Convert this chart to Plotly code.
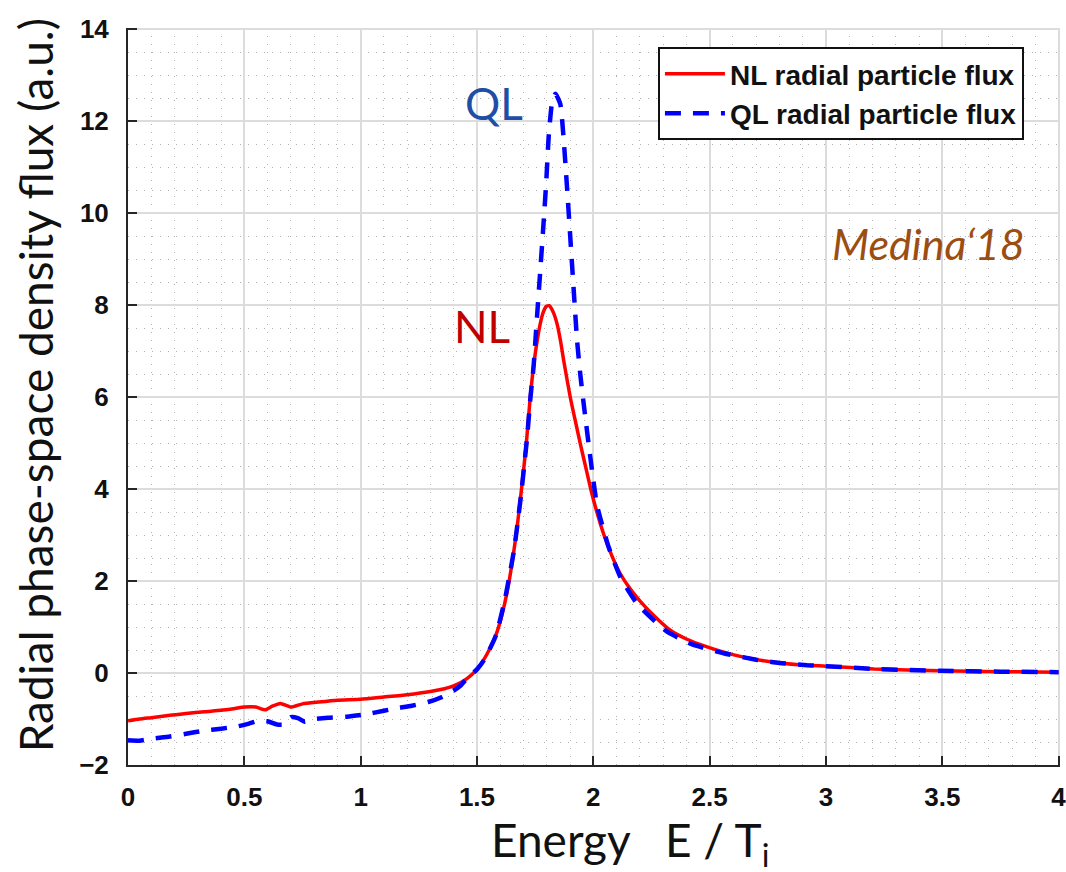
import plotly.graph_objects as go

# ---- data ----
NL_x = [0.00,0.05,0.10,0.18,0.25,0.33,0.40,0.46,0.50,0.55,
        0.59,0.62,0.655,0.70,0.75,0.82,0.90,1.00,1.10,1.20,
        1.30,1.36,1.40,1.457,1.50,1.528,1.55,1.578,1.60,1.622,
        1.64,1.657,1.672,1.686,1.70,1.712,1.729,1.745,1.772,1.785,
        1.797,1.81,1.825,1.844,1.86,1.872,1.901,1.922,1.944,1.97,
        1.994,2.02,2.044,2.08,2.116,2.16,2.202,2.26,2.331,2.40,
        2.489,2.60,2.704,2.80,2.919,3.00,3.206,3.492,3.75,4.00]
NL_y = [-1.04,-1.00,-0.97,-0.92,-0.88,-0.84,-0.81,-0.77,-0.74,-0.74,
        -0.80,-0.72,-0.66,-0.74,-0.67,-0.63,-0.59,-0.57,-0.52,-0.47,
        -0.40,-0.34,-0.28,-0.12,0.08,0.28,0.48,0.78,1.12,1.58,
        2.05,2.60,3.15,3.76,4.40,4.99,6.00,6.75,7.60,7.85,
        7.97,7.99,7.88,7.60,7.20,6.82,6.00,5.50,4.99,4.42,
        3.90,3.42,3.03,2.55,2.16,1.82,1.56,1.25,0.93,0.74,
        0.57,0.40,0.29,0.22,0.17,0.15,0.09,0.05,0.03,0.02]

QL_x = [0.00,0.05,0.10,0.18,0.25,0.32,0.40,0.47,0.52,0.56,
        0.60,0.64,0.67,0.70,0.73,0.76,0.80,0.86,0.94,1.02,
        1.10,1.15,1.22,1.29,1.35,1.40,1.43,1.457,1.50,1.53,
        1.58,1.62,1.66,1.69,1.715,1.73,1.743,1.758,1.772,1.786,
        1.798,1.808,1.822,1.837,1.858,1.872,1.887,1.901,1.915,1.93,
        1.945,1.966,1.987,2.016,2.066,2.116,2.188,2.274,2.317,2.417,
        2.56,2.70,2.80,2.919,3.00,3.206,3.492,3.75,4.00]
QL_y = [-1.46,-1.47,-1.43,-1.38,-1.32,-1.26,-1.21,-1.16,-1.10,-1.04,
        -1.05,-1.12,-1.12,-0.96,-0.98,-1.06,-1.00,-0.97,-0.95,-0.90,
        -0.82,-0.77,-0.71,-0.63,-0.52,-0.38,-0.27,-0.12,0.08,0.28,
        0.80,1.60,2.70,3.90,5.10,6.00,6.65,7.74,8.75,9.77,
        10.71,11.65,12.38,12.60,12.38,11.65,10.57,9.48,8.39,7.25,
        6.45,5.55,4.70,3.65,2.74,2.09,1.51,1.08,0.90,0.64,
        0.43,0.29,0.22,0.17,0.15,0.09,0.05,0.03,0.02]

NL_name = "NL radial particle flux"
QL_name = "QL radial particle flux"
x_title = "Energy\u00a0\u00a0\u00a0E / T<sub>i</sub>"
y_title = "Radial phase-space density flux (a.u.)"

x_ticks = [0, 0.5, 1, 1.5, 2, 2.5, 3, 3.5, 4]
x_ticktext = ["0", "0.5", "1", "1.5", "2", "2.5", "3", "3.5", "4"]
y_ticks = [-2, 0, 2, 4, 6, 8, 10, 12, 14]

TITLE_FONT = "Lato, Open Sans, sans-serif"
TICK_FONT = "Liberation Sans, Arial, sans-serif"

fig = go.Figure()
fig.add_trace(go.Scatter(x=NL_x, y=NL_y, mode="lines", name=NL_name,
                         line=dict(color="#ff0000", width=3.5, shape="spline", smoothing=0.5)))
fig.add_trace(go.Scatter(x=QL_x, y=QL_y, mode="lines", name=QL_name,
                         line=dict(color="#0000ff", width=4.5, dash="16px,12px",
                                   shape="spline", smoothing=0.5)))

axis_common = dict(
    showline=True, linecolor="#262626", linewidth=2, mirror=False,
    ticks="inside", ticklen=9, tickwidth=2, tickcolor="#262626",
    showgrid=True, gridcolor="#dcdcdc", gridwidth=1.5,
    zeroline=False, automargin=False, ticklabeloverflow="allow",
    tickfont=dict(family=TICK_FONT, size=26, color="#111111", weight="bold"),
)

fig.update_xaxes(range=[0, 4.006], tickvals=x_ticks, ticktext=x_ticktext,
                 ticklabelstandoff=8,
                 minor=dict(dtick=0.1, showgrid=True, gridcolor="#b0b0b0",
                            griddash="1px,7px", gridwidth=1),
                 **axis_common)
fig.update_yaxes(range=[-2, 14.03], tickvals=y_ticks,
                 ticklabelstandoff=12,
                 minor=dict(dtick=0.5, showgrid=True, gridcolor="#b0b0b0",
                            griddash="1px,7px", gridwidth=1),
                 **axis_common)

fig.update_layout(
    width=1066, height=872,
    margin=dict(l=128, r=6, t=28, b=107),
    paper_bgcolor="white", plot_bgcolor="white",
    showlegend=True,
    legend=dict(x=0.9613, y=0.974, xanchor="right", yanchor="top",
                bgcolor="white", bordercolor="#111111", borderwidth=2,
                font=dict(family=TICK_FONT, size=28, color="#111111", weight="bold"),
                itemwidth=60),
    annotations=[
        dict(text=x_title, xref="paper", yref="paper", x=0.539, y=-0.1058,
             xanchor="center", yanchor="middle", showarrow=False,
             font=dict(family=TITLE_FONT, size=46, color="#111111")),
        dict(text=y_title, xref="paper", yref="paper", x=-0.0988,
             y=0.515, xanchor="center", yanchor="middle", textangle=-90,
             showarrow=False,
             font=dict(family=TITLE_FONT, size=46, color="#111111")),
        dict(text="QL", xref="paper", yref="paper", x=(494-128)/931,
             y=1-(104-29)/736, xanchor="center", yanchor="middle", showarrow=False,
             font=dict(family=TITLE_FONT, size=44, color="#1f4ea6")),
        dict(text="NL", xref="paper", yref="paper", x=(482-128)/931,
             y=1-(327-29)/736, xanchor="center", yanchor="middle", showarrow=False,
             font=dict(family=TITLE_FONT, size=44, color="#c00000")),
        dict(text="<i>Medina\u201818</i>", xref="paper", yref="paper", x=(928-128)/931,
             y=1-(244-29)/736, xanchor="center", yanchor="middle", showarrow=False,
             font=dict(family=TITLE_FONT, size=43, color="#9c4e12")),
    ],
)

fig.write_html("out.html", config={"displayModeBar": False},
               post_script="document.body.style.margin='0px';")
